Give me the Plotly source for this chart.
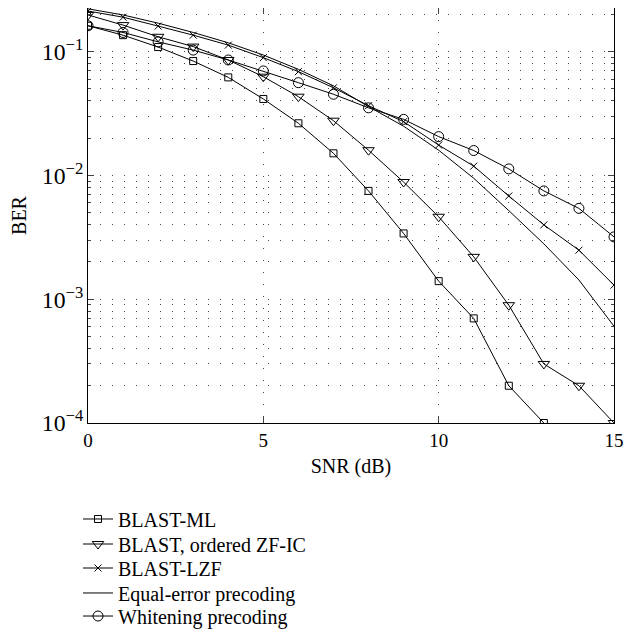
import plotly.graph_objects as go

snr = list(range(0, 16))

ber_ml = [0.162, 0.136, 0.109, 0.084, 0.062, 0.0415, 0.0264, 0.0151, 0.0075, 0.0034,
          0.0014, 0.0007, 0.0002, 0.0001]
ber_zfic = [0.198, 0.164, 0.132, 0.110, 0.0857, 0.0628, 0.0433, 0.0277, 0.016, 0.00885,
            0.00464, 0.0022, 0.000895, 0.0003, 0.0002, 0.0001]
ber_lzf = [0.213, 0.19, 0.161, 0.136, 0.113, 0.0895, 0.069, 0.0511, 0.0366, 0.0272,
           0.0176, 0.0119, 0.00682, 0.00399, 0.00249, 0.0013]
ber_equal = [0.222, 0.198, 0.17, 0.143, 0.118, 0.094, 0.072, 0.053, 0.036, 0.025,
             0.016, 0.0095, 0.0052, 0.0028, 0.00143, 0.000605]
ber_white = [0.162, 0.143, 0.12, 0.103, 0.0857, 0.0699, 0.0562, 0.0453, 0.0352, 0.0284,
             0.0206, 0.0159, 0.0113, 0.0075, 0.00542, 0.00319]

names = ["BLAST-ML", "BLAST, ordered ZF-IC", "BLAST-LZF",
         "Equal-error precoding", "Whitening precoding"]

FONT = "Liberation Serif"
fig = go.Figure()

series = [
    (ber_ml, "square-open", 7, "lines+markers"),
    (ber_zfic, "triangle-down-open", 10, "lines+markers"),
    (ber_lzf, "x-thin", 7, "lines+markers"),
    (ber_equal, None, 0, "lines"),
    (ber_white, "circle-open", 10, "lines+markers"),
]
legend_ids = ["legend", "legend2", "legend3", "legend4", "legend5"]
for (vals, sym, sz, mode), name, lg in zip(series, names, legend_ids):
    kw = dict(x=snr[:len(vals)], y=vals, mode=mode, name=name,
              line=dict(color="black", width=1), legend=lg)
    if sym:
        kw["marker"] = dict(symbol=sym, size=sz, color="black",
                            line=dict(color="black", width=1))
    fig.add_trace(go.Scatter(**kw))

grid_dash = "1px,11px"
fig.update_xaxes(
    range=[0, 15], tickvals=[0, 5, 10, 15], ticks="inside", ticklen=6,
    showline=True, linecolor="black", linewidth=1, mirror="ticks",
    showgrid=True, gridcolor="#444", griddash=grid_dash, gridwidth=1,
    zeroline=False, automargin=False,
    title=dict(text="SNR (dB)", standoff=9, font=dict(size=20, family=FONT)),
    tickfont=dict(size=19, family=FONT),
)
fig.update_yaxes(
    type="log", range=[-4, -0.647], dtick=1, exponentformat="power",
    ticks="inside", ticklen=6,
    showline=True, linecolor="black", linewidth=1, mirror="ticks",
    showgrid=True, gridcolor="#444", griddash=grid_dash, gridwidth=1,
    minor=dict(dtick="D1", ticks="inside", ticklen=3, showgrid=True,
               gridcolor="#444", griddash=grid_dash, gridwidth=1),
    zeroline=False, automargin=False,
    title=dict(text="BER", standoff=14, font=dict(size=20, family=FONT)),
    tickfont=dict(size=19, family=FONT),
)

leg_y = [-0.2313, -0.2916, -0.3494, -0.4096, -0.4651]
leg_common = dict(x=-0.019, xanchor="left", yanchor="middle",
                  bgcolor="rgba(0,0,0,0)", font=dict(size=20, family=FONT),
                  itemwidth=30)
layout_legends = {lg: dict(y=yv, **leg_common) for lg, yv in zip(legend_ids, leg_y)}

fig.update_layout(
    width=640, height=631,
    margin=dict(l=80, r=34, t=0, b=216),
    plot_bgcolor="white", paper_bgcolor="white",
    font=dict(family=FONT, size=19, color="black"),
    showlegend=True,
    **layout_legends,
)
fig.write_html("out.html")
